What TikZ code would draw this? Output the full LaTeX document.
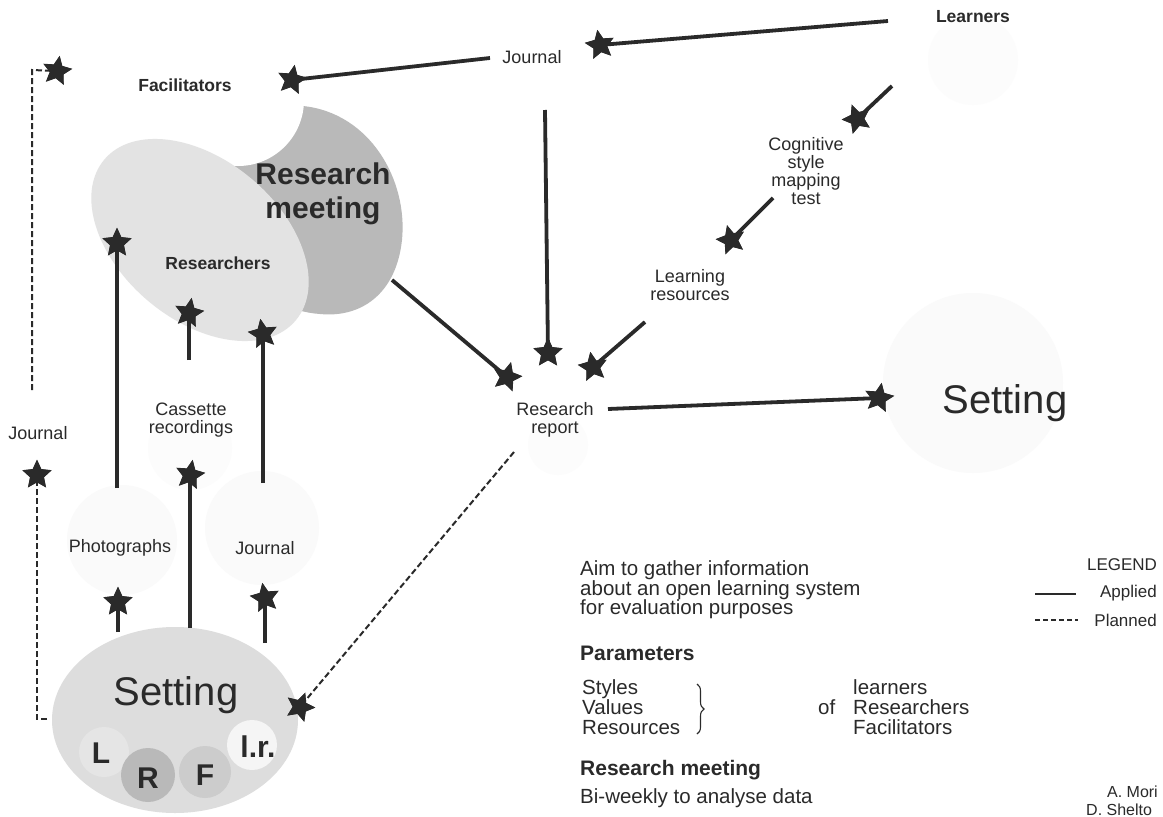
\documentclass[tikz,border=0pt]{standalone}
\usepackage{fontspec}
\setmainfont{Liberation Sans}
\usetikzlibrary{shapes.geometric,decorations.pathreplacing}
\definecolor{ink}{HTML}{2A2A2A}
\begin{document}
\begin{tikzpicture}[x=1pt,y=-1pt,
  conn/.style={draw=ink, line width=3.8pt},
  plan/.style={draw=ink, line width=2pt, dash pattern=on 6pt off 3pt},
  tip/.style={star, star points=5, star point ratio=2.1, minimum size=30pt, inner sep=0pt, fill=ink, draw=none},
  lbl/.style={font=\fontsize{18}{18}\selectfont, align=center, inner sep=0pt, text=ink},
  blbl/.style={font=\bfseries\fontsize{17.5}{18}\selectfont, align=center, inner sep=0pt, text=ink},
  faint/.style={fill=gray!4, draw=none},
  vfaint/.style={fill=gray!2, draw=none},
  body/.style={font=\fontsize{20.5}{19.5}\selectfont, align=left, inner sep=0pt, text=ink, anchor=west},
  head/.style={font=\bfseries\fontsize{21}{22}\selectfont, inner sep=0pt, text=ink, anchor=west},
  letter/.style={font=\bfseries\fontsize{30}{30}\selectfont, inner sep=0pt, text=ink}
]
\useasboundingbox (0,0) rectangle (1163,817);
\fill[white] (0,0) rectangle (1163,817);

% faint background circles
\fill[vfaint] (973,60) circle[radius=45];
\fill[vfaint] (190,448) circle[radius=42];
\fill[faint] (122,540) circle[radius=55];
\fill[faint] (262,528) circle[radius=57];
\fill[vfaint] (558,445) circle[radius=30];
\fill[faint] (973,383) circle[radius=90];

% research meeting blob
\fill[gray!55] (303,106) .. controls (370,113) and (408,180) .. (402,240)
  .. controls (396,295) and (360,318) .. (320,314)
  .. controls (260,310) and (200,250) .. (200,200)
  .. controls (200,160) and (250,108) .. (303,106) -- cycle;
\fill[white] (238,100) circle[radius=66];
\fill[gray!22, rotate around={-40:(200,240)}] (200,240) ellipse[x radius=125, y radius=80];

% setting (bottom left)
\fill[gray!27] (175,720) ellipse[x radius=123, y radius=93];
\fill[gray!20] (104,752) circle[radius=25];
\fill[gray!55] (148,775) circle[radius=27];
\fill[gray!40] (205,772) circle[radius=26];
\fill[gray!8] (252,745) circle[radius=25];

% text nodes
\node[lbl] (jtop) at (532,57) {Journal};
\node[blbl] (fac) at (185,85) {Facilitators};
\node[blbl] (lea) at (973,17) {Learners};
\node[lbl] (cog) at (806,171) {Cognitive\\style\\mapping\\test};
\node[lbl] (lres) at (690,285) {Learning\\resources};
\node[lbl] (rrep) at (555,420) {Research\\report};
\node[text=ink, font=\fontsize{40}{40}\selectfont, inner sep=0pt] (setR) at (1005,403) {Setting};
\node[text=ink, font=\bfseries\fontsize{30}{34}\selectfont, align=center, inner sep=0pt] (rmeet) at (323,194) {Research\\meeting};
\node[blbl] (resr) at (218,263) {Researchers};
\node[lbl] (jleft) at (38,433) {Journal};
\node[lbl] (cas) at (191,420) {Cassette\\recordings};
\node[lbl] (pho) at (120,548) {Photographs};
\node[lbl] (jbot) at (265,548) {Journal};
\node[text=ink, font=\fontsize{40}{40}\selectfont, inner sep=0pt] (setL) at (176,695) {Setting};
\node[letter] (lL) at (101,753) {L};
\node[letter] (lR) at (148,778) {R};
\node[letter] (lF) at (205,775) {F};
\node[letter] (llr) at (258,747) {l.r.};

% free ends
\coordinate (c1) at (888,21);
\coordinate (c2) at (490,58);
\coordinate (c3) at (892,86);
\coordinate (c4) at (773,198);
\coordinate (c5) at (645,322);
\coordinate (c6) at (545,110);
\coordinate (c7) at (392,280);
\coordinate (c8) at (608,409);
\coordinate (c9) at (514,452);
\coordinate (c10a) at (32,390);
\coordinate (c10b) at (32,70);
\coordinate (c11a) at (47,719);
\coordinate (c11b) at (37,719);
\coordinate (c12) at (117,488);
\coordinate (c13) at (189,360);
\coordinate (c14) at (263,483);
\coordinate (c15) at (190,628);
\coordinate (c16) at (118,632);
\coordinate (c17) at (265,643);

% star tips
\node[tip, rotate=10] (s1) at (600,45) {};
\node[tip, rotate=-10] (s2) at (292,80) {};
\node[tip, rotate=20] (s3) at (857,119) {};
\node[tip, rotate=15] (s4) at (731,240) {};
\node[tip, rotate=10] (s5) at (593,367) {};
\node[tip] (s6) at (548,353) {};
\node[tip, rotate=-15] (s7) at (507,377) {};
\node[tip, rotate=-10] (s8) at (879,398) {};
\node[tip, rotate=-20] (s9) at (300,707) {};
\node[tip, rotate=-10] (s10) at (57,71) {};
\node[tip] (s11) at (37,475) {};
\node[tip] (s12) at (117,243) {};
\node[tip, rotate=-10] (s13) at (189,313) {};
\node[tip, rotate=10] (s14) at (263,334) {};
\node[tip, rotate=-10] (s15) at (190,475) {};
\node[tip] (s16) at (118,602) {};
\node[tip, rotate=10] (s17) at (265,598) {};

% connectors
\draw[conn] (c1) -- (s1.center);
\draw[conn] (c2) -- (s2.center);
\draw[conn] (c3) -- (s3.center);
\draw[conn] (c4) -- (s4.center);
\draw[conn] (c5) -- (s5.center);
\draw[conn] (c6) -- (s6.center);
\draw[conn] (c7) -- (s7.center);
\draw[conn] (c8) -- (s8.center);
\draw[plan] (c9) -- (s9.center);
\draw[plan] (c10a) -- (c10b) -- (s10.center);
\draw[plan] (c11a) -- (c11b) -- (s11.center);
\draw[conn] (c12) -- (s12.center);
\draw[conn] (c13) -- (s13.center);
\draw[conn] (c14) -- (s14.center);
\draw[conn] (c15) -- (s15.center);
\draw[conn] (c16) -- (s16.center);
\draw[conn] (c17) -- (s17.center);
% redraw stars on top of lines
\foreach \s in {s1,s2,s3,s4,s5,s6,s7,s8,s9,s10,s11,s12,s13,s14,s15,s16,s17}
  \fill[ink] (\s.outer point 1) -- (\s.inner point 1) -- (\s.outer point 2) -- (\s.inner point 2)
    -- (\s.outer point 3) -- (\s.inner point 3) -- (\s.outer point 4) -- (\s.inner point 4)
    -- (\s.outer point 5) -- (\s.inner point 5) -- cycle;

% description text
\node[body] (aim) at (580,590) {Aim to gather information\\about an open learning system\\for evaluation purposes};
\node[head] (par) at (580,653) {Parameters};
\node[body, font=\fontsize{20.5}{20}\selectfont] (svr) at (582,707) {Styles\\Values\\Resources};
\coordinate (b1) at (697,684);
\coordinate (b2) at (697,734);
\draw[ink, line width=1.1pt, decorate, decoration={brace, amplitude=7pt}] (b1) -- (b2);
\node[body] (of) at (818,707) {of};
\node[body, font=\fontsize{20.5}{20}\selectfont] (who) at (853,707) {learners\\Researchers\\Facilitators};
\node[head] (rmh) at (580,770) {Research meeting};
\node[body] (biw) at (580,798) {Bi-weekly to analyse data};

% legend
\node[lbl, font=\fontsize{17}{17}\selectfont] (leg) at (1122,565) {LEGEND};
\coordinate (la1) at (1035,594);
\coordinate (la2) at (1076,594);
\coordinate (lp1) at (1035,620);
\coordinate (lp2) at (1078,620);
\draw[ink, line width=2.6pt] (la1) -- (la2);
\draw[ink, line width=2pt, dash pattern=on 5pt off 3pt] (lp1) -- (lp2);
\node[lbl, anchor=east, font=\fontsize{17}{17}\selectfont] (app) at (1157,593) {Applied};
\node[lbl, anchor=east, font=\fontsize{17}{17}\selectfont] (pla) at (1157,620) {Planned};

% authors
\node[lbl, anchor=east, font=\fontsize{16}{17}\selectfont] (au1) at (1158,792) {A. Mori};
\node[lbl, anchor=west, font=\fontsize{16}{17}\selectfont] (au2) at (1086,810) {D. Shelto};
\end{tikzpicture}
\end{document}
